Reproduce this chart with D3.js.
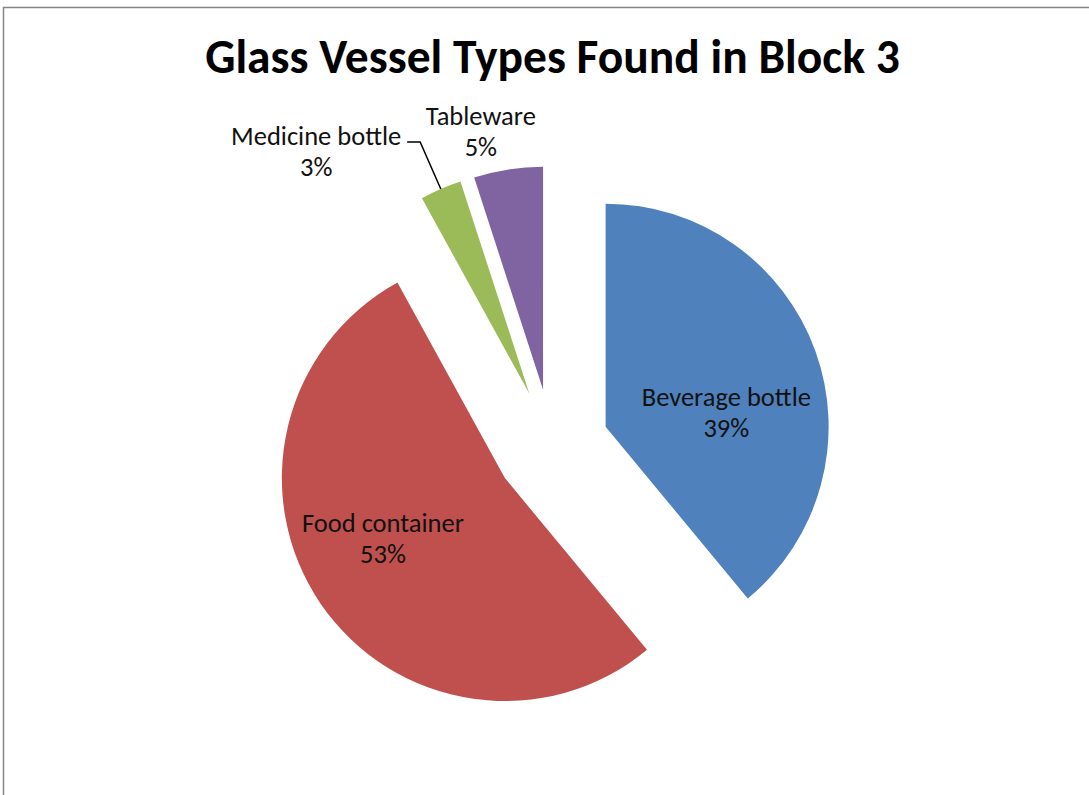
<!DOCTYPE html>
<html>
<head>
<meta charset="utf-8">
<script src="https://cdn.jsdelivr.net/npm/d3@7"></script>
<style>
  html, body { margin: 0; padding: 0; background: #fff; }
  svg { display: block; }
</style>
</head>
<body>
<div id="chart"></div>
<script>
// data (percent of vessels)
const categories = ["Beverage bottle", "Food container", "Medicine bottle", "Tableware"];
const values = [39, 53, 3, 5];
const colors = ["#4F81BD", "#C0504D", "#9BBB59", "#8064A2"];
const title = "Glass Vessel Types Found in Block 3";

const W = 1089, H = 795;
const cx = 552, cy = 446;     // pie centre before exploding
const radius = 223;
const explode = 57;
const font = "Carlito, Calibri, Lato, sans-serif";

// label placement, polar from pie centre (deg clockwise from 12 o'clock, px)
const labelPos = {
  "Beverage bottle": { a: 82.1, d: 176 },
  "Food container": { a: 239.1, d: 197 },
  "Medicine bottle": { a: 320.4, d: 370 },
  "Tableware": { a: 346.9, d: 314 }
};

const svg = d3.select("#chart").append("svg")
  .attr("width", W)
  .attr("height", H);

// frame (only top and left edges are visible in the reference)
svg.append("rect")
  .attr("x", 3.5).attr("y", 7.5)
  .attr("width", W + 20).attr("height", H + 20)
  .attr("fill", "none")
  .attr("stroke", "#868686")
  .attr("stroke-width", 1.5);

svg.append("text")
  .attr("x", cx + 0.5).attr("y", 73)
  .attr("text-anchor", "middle")
  .attr("font-family", font)
  .attr("font-weight", "bold")
  .attr("font-size", 47.5)
  .attr("fill", "#000")
  .text(title);

const data = categories.map((c, i) => ({ name: c, value: values[i], color: colors[i] }));

const pie = d3.pie().sort(null).value(d => d.value);
const arc = d3.arc().innerRadius(0).outerRadius(radius);
const arcs = pie(data);

const polar = (angDeg, dist) => {
  const a = angDeg * Math.PI / 180;
  return [Math.sin(a) * dist, -Math.cos(a) * dist];
};

const g = svg.append("g").attr("transform", `translate(${cx},${cy})`);

g.selectAll("path.slice")
  .data(arcs)
  .join("path")
  .attr("class", "slice")
  .attr("d", arc)
  .attr("fill", d => d.data.color)
  .attr("transform", d => {
    const mid = (d.startAngle + d.endAngle) / 2;
    return `translate(${Math.sin(mid) * explode},${-Math.cos(mid) * explode})`;
  });

// leader line for the small medicine slice
const med = arcs[2];
const medMid = (med.startAngle + med.endAngle) / 2;
const tip = [Math.sin(medMid) * (explode + radius), -Math.cos(medMid) * (explode + radius)];
const mp = polar(labelPos["Medicine bottle"].a, labelPos["Medicine bottle"].d);
g.append("path")
  .attr("d", d3.line()([[mp[0] + 91, mp[1] - 19], [mp[0] + 104, mp[1] - 19], tip]))
  .attr("fill", "none")
  .attr("stroke", "#000")
  .attr("stroke-width", 1.5);

const labels = g.selectAll("text.lbl")
  .data(arcs)
  .join("text")
  .attr("class", "lbl")
  .attr("text-anchor", "middle")
  .attr("font-family", font)
  .attr("font-size", 26.5)
  .attr("fill", "#111")
  .attr("transform", d => {
    const p = labelPos[d.data.name];
    const xy = polar(p.a, p.d);
    return `translate(${xy[0]},${xy[1]})`;
  });

labels.append("tspan")
  .attr("x", 0).attr("y", -15.5)
  .text(d => d.data.name);
labels.append("tspan")
  .attr("x", 0).attr("y", 15.5)
  .text(d => d.data.value + "%");
</script>
</body>
</html>
